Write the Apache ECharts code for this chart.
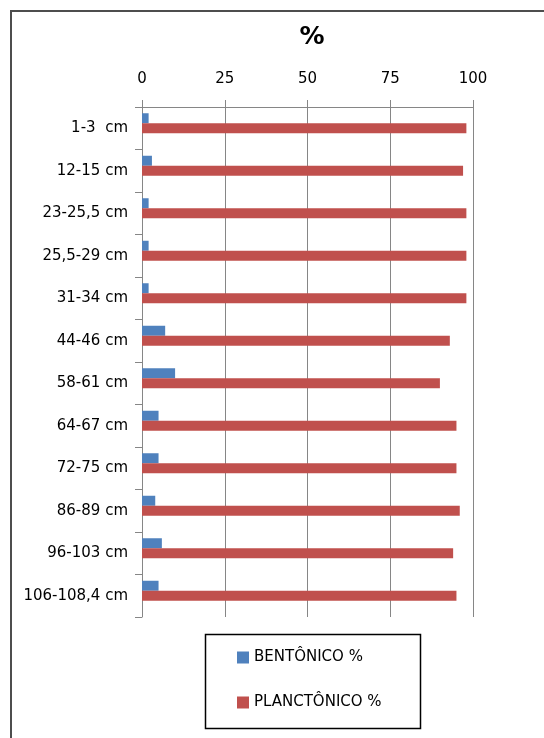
<!DOCTYPE html>
<html>
<head>
<meta charset="utf-8">
<script src="https://cdn.jsdelivr.net/npm/echarts@6/dist/echarts.min.js"></script>
<style>
  html, body { margin: 0; padding: 0; background: #fff; }
  #chart { width: 544px; height: 738px; }
</style>
</head>
<body>
<div id="chart"></div>
<script>
// Sample depths (top to bottom of the core)
const depths = [
  '1-3  cm', '12-15 cm', '23-25,5 cm', '25,5-29 cm', '31-34 cm', '44-46 cm',
  '58-61 cm', '64-67 cm', '72-75 cm', '86-89 cm', '96-103 cm', '106-108,4 cm'
];
// Percentage of benthic and planktonic foraminifera per depth
const bentonico = [2, 3, 2, 2, 2, 7, 10, 5, 5, 4, 6, 5];
const planctonico = [98, 97, 98, 98, 98, 93, 90, 95, 95, 96, 94, 95];
const xTicks = { min: 0, max: 100, step: 25 };

const FONT = 'DejaVu Sans';
const GRID_COLOR = '#868686';

const chart = echarts.init(document.getElementById('chart'), null, { renderer: 'canvas' });

chart.setOption({
  backgroundColor: '#ffffff',
  animation: false,
  title: {
    text: '%',
    left: 307,
    top: 20,
    textAlign: 'center',
    textStyle: { fontFamily: FONT, fontSize: 25, fontWeight: 'bold', color: '#000' }
  },
  grid: {
    left: 142,
    top: 107,
    width: 331,
    height: 510,
    containLabel: false,
    outerBoundsMode: 'none'
  },
  xAxis: {
    type: 'value',
    position: 'top',
    min: xTicks.min,
    max: xTicks.max,
    interval: xTicks.step,
    axisLine: { show: true, lineStyle: { color: GRID_COLOR, width: 1 } },
    axisTick: { show: true, length: 7, lineStyle: { color: GRID_COLOR } },
    splitLine: { show: true, lineStyle: { color: GRID_COLOR, width: 1 } },
    axisLabel: { margin: 20, fontFamily: FONT, fontSize: 15, color: '#000' }
  },
  yAxis: {
    type: 'category',
    inverse: true,
    data: depths,
    axisLine: { show: true, lineStyle: { color: GRID_COLOR, width: 1 } },
    axisTick: { show: true, length: 7, lineStyle: { color: GRID_COLOR } },
    splitLine: { show: false },
    axisLabel: { margin: 14, fontFamily: FONT, fontSize: 15, color: '#000' }
  },
  legend: {
    orient: 'vertical',
    left: 237,
    top: 650,
    data: ['BENTÔNICO %', 'PLANCTÔNICO %'],
    icon: 'rect',
    itemWidth: 12,
    itemHeight: 12,
    itemGap: 30,
    padding: 0,
    textStyle: { fontFamily: FONT, fontSize: 15, color: '#000' }
  },
  graphic: [
    {
      type: 'rect',
      silent: true,
      shape: { x: 11, y: 11, width: 700, height: 900 },
      style: { fill: 'none', stroke: '#4d4d4d', lineWidth: 2 }
    },
    {
      type: 'rect',
      silent: true,
      shape: { x: 205.5, y: 634.5, width: 215, height: 94 },
      style: { fill: 'none', stroke: '#000', lineWidth: 1.5 }
    }
  ],
  series: [
    {
      name: 'BENTÔNICO %',
      type: 'bar',
      data: bentonico,
      barWidth: 10,
      barGap: '0%',
      itemStyle: { color: '#4F81BD' }
    },
    {
      name: 'PLANCTÔNICO %',
      type: 'bar',
      data: planctonico,
      barWidth: 10,
      barGap: '0%',
      itemStyle: { color: '#C0504D' }
    },
    {
      // empty slot below each pair of bars
      name: 'spacer',
      type: 'bar',
      data: [],
      barWidth: 10,
      barGap: '0%',
      itemStyle: { color: 'transparent' }
    }
  ]
});
</script>
</body>
</html>
